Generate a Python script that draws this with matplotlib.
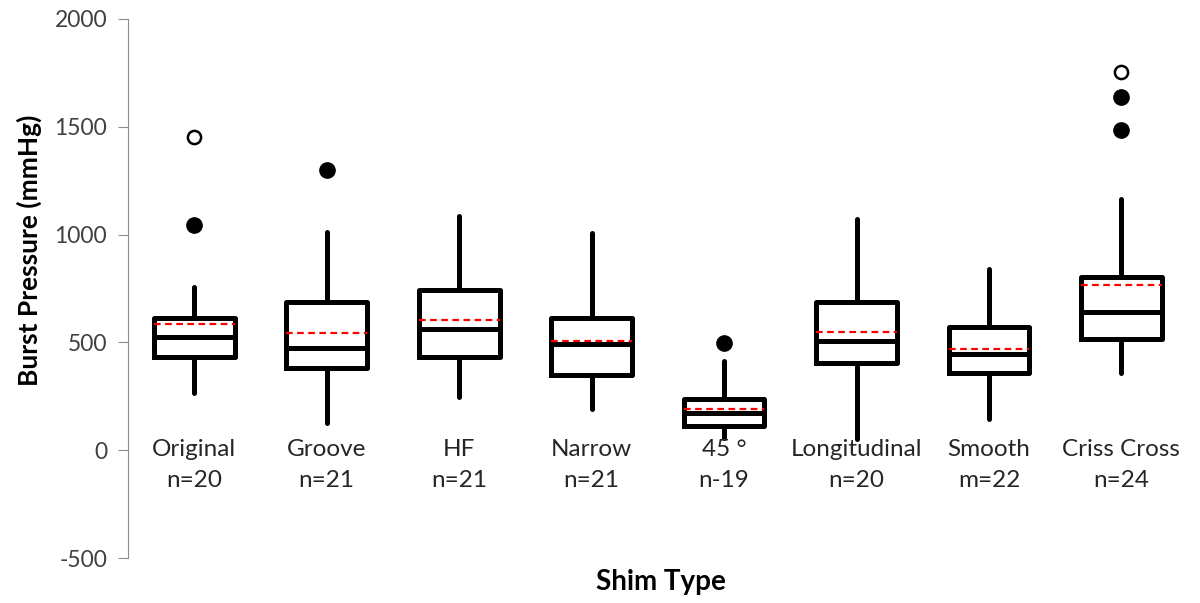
import matplotlib.pyplot as plt
import numpy as np

plt.rcParams['font.family'] = ['Lato', 'DejaVu Sans']
plt.rcParams['axes.unicode_minus'] = False

# shim types and sample counts (as labelled)
shims = ['Original', 'Groove', 'HF', 'Narrow', '45 °', 'Longitudinal', 'Smooth', 'Criss Cross']
counts = ['n=20', 'n=21', 'n=21', 'n=21', 'n-19', 'n=20', 'm=22', 'n=24']

# box statistics (mmHg)
whis_lo = [264, 125, 247, 190, 56, 50, 144, 356]
q1 = [432, 380, 431, 347, 111, 403, 356, 518]
median = [525, 472, 560, 491, 171, 506, 444, 639]
mean = [583, 543, 602, 506, 190, 548, 467, 764]
q3 = [613, 687, 745, 613, 236, 687, 571, 802]
whis_hi = [756, 1014, 1088, 1006, 414, 1074, 838, 1167]

# outliers: filled = outlier, hollow = extreme
outlier_x = [1, 2, 5, 8, 8]
outlier_y = [1046, 1301, 495, 1639, 1486]
extreme_x = [1, 8]
extreme_y = [1451, 1755]

stats = []
for i in range(len(shims)):
    stats.append({'whislo': whis_lo[i], 'q1': q1[i], 'med': median[i], 'mean': mean[i],
                  'q3': q3[i], 'whishi': whis_hi[i], 'fliers': []})

fig = plt.figure(figsize=(12, 6.03), dpi=100)
ax = fig.add_axes([0.1067, 0.0746, 0.883, 0.894])

pos = np.arange(1, len(shims) + 1)
lw = 3.6
ax.bxp(stats, positions=pos, widths=0.61, showcaps=False, showfliers=False,
       showmeans=True, meanline=True,
       boxprops=dict(color='black', linewidth=lw),
       whiskerprops=dict(color='black', linewidth=lw, solid_capstyle='round'),
       medianprops=dict(color='black', linewidth=lw),
       meanprops=dict(color='red', linewidth=1.6, linestyle=(0, (3, 2))))

ax.plot(outlier_x, outlier_y, 'o', color='black', markersize=11, zorder=5)
ax.plot(extreme_x, extreme_y, 'o', markerfacecolor='white', markeredgecolor='black',
        markeredgewidth=1.8, markersize=9.5, zorder=5)

# category labels sit inside the plot, just under the boxes
for x, name, n in zip(pos, shims, counts):
    ax.text(x, 50, name + '\n' + n, ha='center', va='top', fontsize=17.5,
            color='#262626', linespacing=1.55)

ax.set_xlim(0.5, 8.5)
ax.set_ylim(-500, 2000)
ax.set_yticks(np.arange(-500, 2001, 500))
ax.set_xticks([])
for s in ['top', 'right', 'bottom']:
    ax.spines[s].set_visible(False)
ax.spines['left'].set_color('#8c8c8c')
ax.tick_params(axis='y', direction='out', length=7, color='#8c8c8c',
               labelsize=16.5, labelcolor='#404040', pad=8)

ax.set_ylabel('Burst Pressure (mmHg)', fontsize=19, fontweight='bold')
ax.yaxis.set_label_coords(-0.081, 0.57)
ax.set_xlabel('Shim Type', fontsize=20, fontweight='bold')
ax.xaxis.set_label_coords(0.503, -0.02)

fig.savefig('out.png', dpi=100)
